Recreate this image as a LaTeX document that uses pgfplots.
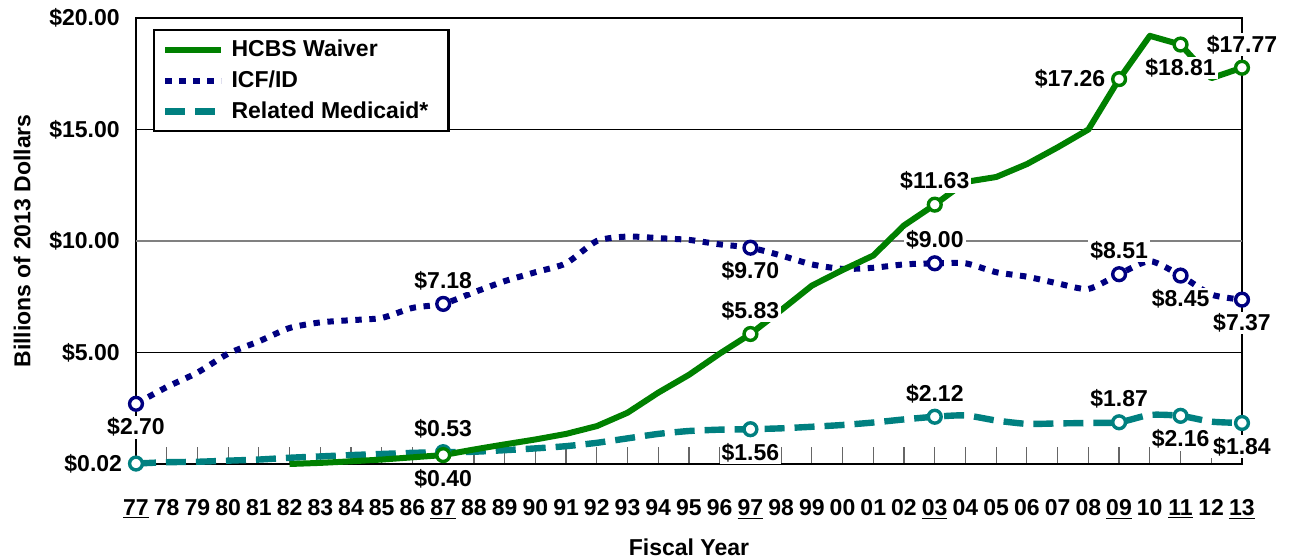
\documentclass[border=0pt]{standalone}
\usepackage{pgfplots}
\pgfplotsset{compat=1.18}
\usepackage{fontspec}
\setmainfont{Liberation Sans}
\definecolor{hcbs}{RGB}{0,128,0}
\definecolor{icf}{RGB}{0,0,128}
\definecolor{rel}{RGB}{0,128,128}
\newcommand\F{\fontsize{11.5}{13.8}\selectfont\bfseries}
\pgfplotsset{
  hcbsstyle/.style={hcbs, line width=3pt, line join=round},
  icfstyle/.style={icf, line width=3pt, dash pattern=on 3.2pt off 3.8pt},
  relstyle/.style={rel, line width=3.2pt, dash pattern=on 10pt off 5pt},
  lab/.style={forget plot, only marks, mark=*, mark size=3.2pt,
    mark options={fill=white, draw=#1, line width=1.7pt, solid}, point meta=y,
    nodes near coords={\$\pgfmathprintnumber[fixed,fixed zerofill,precision=2,assume math mode=true]{\pgfplotspointmeta}},
    visualization depends on={value \thisrow{a}\as\myanchor},
    every node near coord/.append style={anchor=\myanchor, font=\F, fill=white, inner sep=1pt, outer sep=6pt, text=black}},
}
\begin{document}
\begin{tikzpicture}
\begin{axis}[
 at={(0,0)}, anchor=south west,
 scale only axis, width=553pt, height=223pt,
 xmin=1977, xmax=2013, ymin=0, ymax=20,
 clip=false,
 axis line style={line width=1pt, black},
 xtick={1977,...,2013},
 xticklabels={\underline{77},78,79,80,81,82,83,84,85,86,\underline{87},88,89,90,91,92,93,94,95,96,\underline{97},98,99,00,01,02,\underline{03},04,05,06,07,08,\underline{09},10,\underline{11},12,\underline{13}},
 xtick pos=bottom, xtick align=inside, major tick length=8.5pt,
 xtick style={black!60, line width=0.6pt},
 xticklabel style={font=\F, anchor=base, yshift=-25.5pt},
 ytick={5,15,20}, yticklabels={\$5.00,\$15.00,\$20.00},
 extra y ticks={10}, extra y tick labels={\$10.00},
 extra y tick style={grid style={gray, line width=0.6pt}, ytick style={draw=none}},
 ytick style={draw=none},
 yticklabel style={font=\F, anchor=east, inner sep=0pt, xshift=-8pt},
 ymajorgrids, grid style={black, line width=0.6pt},
 xlabel={Fiscal Year}, ylabel={Billions of 2013 Dollars},
 xlabel style={font=\F, at={(axis description cs:0.5,-0.186)}, anchor=center},
 ylabel style={font=\F, at={(axis description cs:-0.103,0.5)}, anchor=center},
 legend style={at={(axis description cs:0,1)}, anchor=north west, xshift=8.5pt, yshift=-5.5pt,
   draw=black, line width=1.2pt, fill=white, font=\F, inner xsep=4pt, inner ysep=3pt,
   row sep=1.5pt, cells={anchor=west}},
 legend image code/.code={\draw[#1] (0pt,0pt) -- (28pt,0pt);},
]
\addlegendimage{hcbsstyle}\addlegendentry{\hspace*{1.5pt}HCBS Waiver}
\addlegendimage{icfstyle}\addlegendentry{\hspace*{1.5pt}ICF/ID}
\addlegendimage{relstyle}\addlegendentry{\hspace*{1.5pt}Related Medicaid*\hspace*{4pt}}

% Related Medicaid
\addplot[relstyle, smooth, tension=0.4, forget plot] table {
1977 0.02
1978 0.08
1979 0.10
1980 0.15
1981 0.20
1982 0.28
1983 0.34
1984 0.40
1985 0.45
1986 0.50
1987 0.53
1988 0.55
1989 0.62
1990 0.70
1991 0.80
1992 0.95
1993 1.15
1994 1.35
1995 1.48
1996 1.54
1997 1.56
1998 1.60
1999 1.67
2000 1.75
2001 1.86
2002 2.00
2003 2.12
2004 2.18
2005 1.95
2006 1.80
2007 1.82
2008 1.84
2009 1.87
2010 2.20
2011 2.16
2012 1.90
2013 1.84
};
% ICF/ID
\addplot[icfstyle, smooth, tension=0.4, forget plot] table {
1977 2.70
1978 3.45
1979 4.10
1980 4.95
1981 5.50
1982 6.10
1983 6.35
1984 6.45
1985 6.55
1986 7.00
1987 7.18
1988 7.70
1989 8.20
1990 8.60
1991 9.00
1992 10.00
1993 10.20
1994 10.13
1995 10.05
1996 9.85
1997 9.70
1998 9.35
1999 8.95
2000 8.75
2001 8.80
2002 8.95
2003 9.00
2004 9.00
2005 8.60
2006 8.40
2007 8.10
2008 7.85
2009 8.51
2010 9.10
2011 8.45
2012 7.60
2013 7.37
};
% HCBS Waiver
\addplot[hcbsstyle, forget plot] table {
1982 0.00
1983 0.05
1984 0.12
1985 0.20
1986 0.30
1987 0.40
1988 0.65
1989 0.88
1990 1.10
1991 1.35
1992 1.70
1993 2.30
1994 3.20
1995 4.00
1996 4.95
1997 5.83
1998 6.90
1999 8.00
2000 8.70
2001 9.35
2002 10.70
2003 11.63
2004 12.65
2005 12.87
2006 13.45
2007 14.20
2008 15.00
2009 17.26
2010 19.20
2011 18.81
2012 17.30
2013 17.77
};

\addplot[lab=rel] table {
x y a
1977 0.02 east
1987 0.53 south
1997 1.56 north
2003 2.12 south
2009 1.87 south
2011 2.16 north
2013 1.84 north
};
\addplot[lab=icf] table {
x y a
1977 2.70 north
1987 7.18 south
1997 9.70 north
2003 9.00 south
2009 8.51 south
2011 8.45 north
2013 7.37 north
};
\addplot[lab=hcbs] table {
x y a
1987 0.40 north
1997 5.83 south
2003 11.63 south
2009 17.26 east
2011 18.81 north
2013 17.77 south
};
\end{axis}
\pgfresetboundingbox
\useasboundingbox (-68pt,-47pt) rectangle (577pt,232pt);
\end{tikzpicture}
\end{document}
